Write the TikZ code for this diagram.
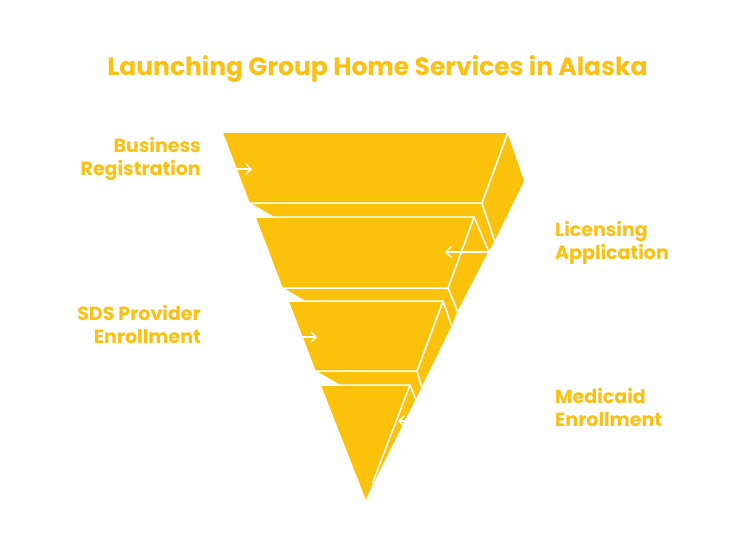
\documentclass[tikz,border=0pt]{standalone}
\usepackage{fontspec}
\setmainfont{Poppins}
\usetikzlibrary{arrows.meta}
\definecolor{gold}{HTML}{FCC10A}
\definecolor{goldtext}{HTML}{FBC012}
\tikzset{
  face/.style={fill=gold, draw=white, line width=1.5pt, line join=round},
  plainface/.style={fill=gold},
  edgeline/.style={draw=white, line width=1.5pt, line join=round, line cap=round},
  pointer/.style={draw=white, line width=1.4pt, -{Straight Barb[length=5.5pt,width=11pt,line width=1.4pt]}},
  lbl/.style={text=goldtext, font=\fontsize{19}{23}\selectfont\bfseries, inner sep=0pt},
  ttl/.style={text=goldtext, font=\fontsize{25}{28}\selectfont\bfseries, inner sep=0pt}
}
\begin{document}
\begin{tikzpicture}[x=1pt,y=-1pt]
\useasboundingbox (0,0) rectangle (756,552);
% layer 1
\coordinate (A1) at (222,132); \coordinate (B1) at (508,132);
\coordinate (C1) at (482,203); \coordinate (D1) at (249,203);
\coordinate (E1) at (525,181); \coordinate (F1) at (495,242);
% layer 2
\coordinate (A2) at (255,217); \coordinate (B2) at (474,217);
\coordinate (C2) at (448,288); \coordinate (D2) at (282,288);
\coordinate (E2) at (489,252); \coordinate (F2) at (458,312);
% layer 3
\coordinate (A3) at (288,301); \coordinate (B3) at (443,301);
\coordinate (C3) at (417,371); \coordinate (D3) at (315,371);
\coordinate (E3) at (452,327); \coordinate (F3) at (422,388);
% layer 4
\coordinate (A4) at (321,385); \coordinate (B4) at (410,385);
\coordinate (C4) at (366,500); \coordinate (E4) at (416,400);
\coordinate (P4) at (372.5,483);

% layer 1 faces
\path[face] (D1) -- (C1) -- (F1) -- (489,253) -- (283,223) -- cycle;
\path[face] (B1) -- (E1) -- (F1) -- (C1) -- cycle;
\path[face] (A1) -- (B1) -- (C1) -- (D1) -- cycle;
% layer 2 faces
\path[face] (D2) -- (C2) -- (F2) -- (452,328) -- (316,308) -- cycle;
\path[face] (B2) -- (E2) -- (F2) -- (C2) -- cycle;
\path[face] (A2) -- (B2) -- (C2) -- (D2) -- cycle;
% layer 3 faces
\path[face] (D3) -- (C3) -- (F3) -- (416,401) -- (349,391) -- cycle;
\path[face] (B3) -- (E3) -- (F3) -- (C3) -- cycle;
\path[face] (A3) -- (B3) -- (C3) -- (D3) -- cycle;
% layer 4 faces
\path[plainface] (B4) -- (E4) -- (C4) -- cycle;
\draw[edgeline] (B4) -- (E4) -- (C4);
\path[plainface] (A4) -- (B4) -- (C4) -- cycle;
\draw[edgeline] (A4) -- (B4) -- (P4);

% arrows
\coordinate (p1s) at (237,169); \coordinate (p1e) at (252,169);
\coordinate (p2s) at (489,252); \coordinate (p2e) at (445,252);
\coordinate (p3s) at (300,337); \coordinate (p3e) at (317,337);
\coordinate (p4s) at (406,421); \coordinate (p4e) at (398,421);
\draw[pointer] (p1s) -- (p1e);
\draw[pointer] (p2s) -- (p2e);
\draw[pointer] (p3s) -- (p3e);
\draw[pointer] (p4s) -- (p4e);

% texts
\node[ttl, anchor=base] (title) at (377.5,75) {Launching Group Home Services in Alaska};
\node[lbl, align=right, anchor=base east] (l1) at (201,175) {Business\\Registration};
\node[lbl, align=left, anchor=base west] (l2) at (555,259) {Licensing\\Application};
\node[lbl, align=right, anchor=base east] (l3) at (201,343) {SDS Provider\\Enrollment};
\node[lbl, align=left, anchor=base west] (l4) at (555,426) {Medicaid\\Enrollment};
\end{tikzpicture}
\end{document}
